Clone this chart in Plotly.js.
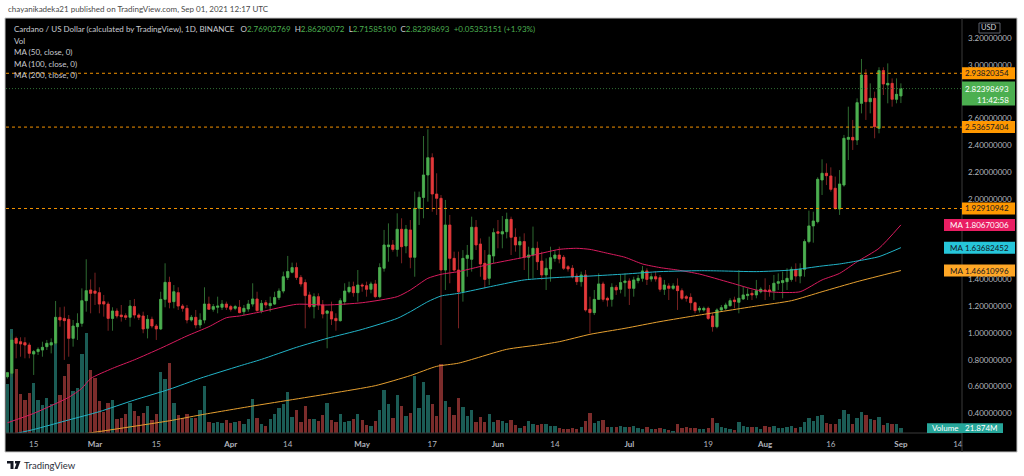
<!DOCTYPE html>
<html><head><meta charset="utf-8">
<script src="https://cdn.plot.ly/plotly-3.0.1.min.js"></script>
<style>html,body{margin:0;padding:0;background:#fff;overflow:hidden}#chart{width:1024px;height:476px}</style>
</head><body><div id="chart"></div>
<script>
// ---------------- DATA ----------------
const startDate = [2021, 1, 9]; // first daily candle: 2021-02-09
const openP = [0.674,0.699,0.960,0.935,0.928,0.910,0.843,0.861,0.873,0.898,
 0.910,0.923,1.117,1.109,1.102,0.960,1.047,1.072,1.241,1.321,
 1.313,1.301,1.234,1.216,1.109,1.164,1.134,1.129,1.117,1.197,
 1.134,1.127,1.035,1.102,1.052,1.030,1.251,1.378,1.234,1.301,
 1.201,1.184,1.097,1.117,1.060,1.097,1.216,1.177,1.192,1.192,
 1.216,1.197,1.184,1.192,1.159,1.179,1.216,1.254,1.167,1.226,
 1.204,1.216,1.264,1.313,1.415,1.453,1.488,1.415,1.376,1.284,
 1.197,1.271,1.209,1.147,1.159,1.109,1.092,1.234,1.308,1.346,
 1.301,1.358,1.353,1.326,1.366,1.271,1.483,1.644,1.657,1.624,
 1.774,1.649,1.769,1.565,1.930,2.012,2.179,2.308,2.037,2.005,
 1.470,1.806,1.557,1.470,1.308,1.557,1.550,1.789,1.664,1.520,
 1.408,1.575,1.756,1.739,1.756,1.848,1.714,1.657,1.682,1.565,
 1.582,1.632,1.537,1.433,1.478,1.557,1.582,1.565,1.495,1.483,
 1.425,1.383,1.433,1.177,1.152,1.251,1.366,1.259,1.251,1.341,
 1.326,1.376,1.388,1.333,1.391,1.408,1.463,1.403,1.420,1.413,
 1.326,1.351,1.333,1.351,1.316,1.271,1.266,1.226,1.172,1.172,
 1.184,1.127,1.047,1.172,1.184,1.204,1.246,1.229,1.254,1.279,
 1.296,1.284,1.308,1.321,1.321,1.313,1.371,1.376,1.383,1.400,
 1.475,1.425,1.475,1.682,1.799,1.831,2.142,2.192,2.172,2.080,
 1.925,2.104,2.445,2.460,2.440,2.714,2.925,2.726,2.751,2.527,
 2.958,2.851,2.863,2.744,2.76902769];
const highP = [0.71,0.998,0.973,0.968,0.968,0.928,0.873,0.893,0.935,0.948,
 0.960,1.239,1.192,1.197,1.134,1.097,1.147,1.333,1.550,1.400,
 1.450,1.341,1.284,1.234,1.192,1.184,1.209,1.147,1.246,1.254,
 1.147,1.159,1.134,1.122,1.067,1.308,1.520,1.420,1.358,1.341,
 1.216,1.209,1.134,1.172,1.147,1.341,1.271,1.216,1.271,1.246,
 1.234,1.21,1.21,1.246,1.209,1.246,1.371,1.308,1.246,1.246,
 1.271,1.308,1.333,1.458,1.575,1.525,1.525,1.433,1.400,1.308,
 1.296,1.296,1.246,1.172,1.234,1.147,1.259,1.371,1.383,1.383,
 1.470,1.371,1.383,1.383,1.396,1.520,1.769,1.818,1.694,1.893,
 1.856,1.806,1.843,2.055,2.055,2.470,2.520,2.341,2.192,2.030,
 1.993,1.881,1.607,1.607,1.619,1.657,1.868,1.843,1.706,1.619,
 1.719,1.781,1.843,1.873,1.898,1.868,1.781,1.719,1.744,1.644,
 1.794,1.682,1.607,1.557,1.644,1.619,1.644,1.582,1.507,1.507,
 1.445,1.458,1.470,1.271,1.321,1.445,1.383,1.271,1.371,1.358,
 1.433,1.445,1.408,1.420,1.433,1.500,1.483,1.445,1.458,1.433,
 1.396,1.371,1.371,1.408,1.333,1.284,1.296,1.234,1.201,1.197,
 1.197,1.147,1.184,1.209,1.226,1.259,1.271,1.470,1.351,1.333,
 1.321,1.396,1.341,1.408,1.358,1.433,1.445,1.458,1.483,1.495,
 1.520,1.520,1.699,1.913,1.905,2.162,2.296,2.266,2.236,2.167,
 2.216,2.478,2.689,2.590,2.751,3.045,2.968,2.863,2.801,2.983,
 2.983,3.012,2.900,2.900,2.86290072];
const lowP = [0.66,0.67,0.811,0.823,0.811,0.811,0.687,0.836,0.823,0.873,
 0.848,0.910,1.047,0.799,0.823,0.898,0.948,1.047,1.159,1.147,
 1.209,1.147,1.122,1.017,1.017,1.109,1.085,1.097,1.047,1.109,
 1.097,0.998,0.960,1.035,0.948,1.022,1.192,1.184,1.184,1.172,
 1.159,1.072,1.085,1.035,1.035,1.072,1.172,1.159,1.147,1.172,
 1.172,1.16,1.17,1.147,1.134,1.159,1.197,1.159,1.147,1.184,
 1.159,1.209,1.246,1.296,1.396,1.445,1.396,1.346,1.035,1.184,
 1.109,1.172,1.109,0.886,1.060,1.017,1.085,1.209,1.296,1.271,
 1.234,1.308,1.271,1.296,1.259,1.259,1.458,1.532,1.607,1.570,
 1.520,1.595,1.483,1.420,1.806,1.856,1.980,1.905,1.881,0.910,
 1.321,1.371,1.458,1.035,1.234,1.420,1.458,1.619,1.420,1.333,
 1.358,1.520,1.632,1.632,1.706,1.582,1.607,1.557,1.470,1.396,
 1.408,1.470,1.396,1.321,1.383,1.532,1.520,1.470,1.458,1.408,
 1.358,1.346,1.159,0.998,1.134,1.246,1.234,1.197,1.197,1.284,
 1.296,1.271,1.209,1.271,1.371,1.383,1.358,1.383,1.383,1.308,
 1.284,1.246,1.321,1.172,1.246,1.234,1.172,1.147,1.152,1.159,
 1.097,1.010,1.035,1.159,1.172,1.197,1.184,1.147,1.246,1.246,
 1.246,1.259,1.296,1.246,1.271,1.246,1.321,1.259,1.321,1.383,
 1.383,1.371,1.420,1.669,1.674,1.818,2.030,2.104,2.055,1.918,
 1.881,2.092,2.291,2.366,2.403,2.639,2.590,2.639,2.453,2.490,
 2.776,2.714,2.689,2.714,2.71585190];
const closeP = [0.704,0.948,0.923,0.918,0.910,0.848,0.861,0.878,0.893,0.923,
 0.928,1.117,1.097,1.092,0.960,1.052,1.072,1.241,1.316,1.296,
 1.296,1.216,1.216,1.109,1.164,1.127,1.122,1.117,1.201,1.134,
 1.117,1.030,1.102,1.052,1.030,1.251,1.378,1.229,1.308,1.201,
 1.184,1.097,1.117,1.060,1.097,1.216,1.177,1.197,1.201,1.216,
 1.192,1.177,1.197,1.152,1.184,1.216,1.254,1.167,1.221,1.209,
 1.221,1.264,1.313,1.420,1.458,1.488,1.415,1.366,1.279,1.197,
 1.271,1.209,1.142,1.164,1.104,1.092,1.241,1.313,1.341,1.301,
 1.358,1.351,1.326,1.366,1.271,1.488,1.657,1.657,1.624,1.774,
 1.644,1.774,1.565,1.930,2.012,2.179,2.308,2.037,2.005,1.470,
 1.806,1.557,1.470,1.308,1.557,1.580,1.789,1.657,1.515,1.400,
 1.582,1.749,1.744,1.756,1.848,1.714,1.657,1.682,1.565,1.582,
 1.632,1.532,1.433,1.483,1.562,1.582,1.552,1.483,1.478,1.420,
 1.383,1.433,1.172,1.152,1.251,1.366,1.251,1.246,1.341,1.321,
 1.376,1.388,1.333,1.396,1.408,1.463,1.400,1.420,1.403,1.326,
 1.358,1.333,1.351,1.316,1.259,1.259,1.226,1.167,1.184,1.184,
 1.109,1.047,1.172,1.189,1.209,1.241,1.234,1.259,1.284,1.289,
 1.284,1.316,1.326,1.313,1.308,1.371,1.383,1.391,1.408,1.475,
 1.425,1.475,1.682,1.799,1.836,2.147,2.192,2.174,2.072,1.930,
 2.112,2.453,2.460,2.440,2.719,2.925,2.726,2.751,2.540,2.958,
 2.858,2.863,2.744,2.781,2.82398693];
// volume, millions
const volumeM = [226,482,296,183,153,187,234,153,130,161,
 136,412,177,265,322,195,211,369,466,292,
 257,149,99,141,152,64,68,90,141,102,
 79,94,126,59,87,285,252,327,141,82,
 71,87,68,71,106,219,53,48,53,48,
 59,48,53,56,40,64,157,71,43,33,
 64,87,118,136,192,74,106,53,126,64,
 64,56,84,141,59,53,87,53,56,64,
 87,59,37,33,56,106,199,133,71,177,
 126,79,94,265,118,239,177,136,79,319,
 149,121,85,161,121,79,106,53,76,53,
 87,51,59,56,45,60,37,22,33,56,
 43,37,40,40,34,33,25,19,19,22,
 19,29,56,92,47,56,59,28,29,29,
 31,29,27,31,22,19,28,17,19,25,
 17,13,9,40,25,28,23,23,20,19,
 22,68,45,28,22,20,15,51,31,28,
 27,28,19,31,27,34,23,23,28,31,
 25,27,53,71,56,79,84,47,40,43,
 64,106,90,40,71,99,84,64,59,76,
 37,47,42,43,21.874];
// moving averages
const ma50Dates = ['2021-02-09','2021-02-15','2021-02-23','2021-02-26','2021-02-28','2021-03-05','2021-03-10','2021-03-16','2021-03-22','2021-03-27','2021-03-31','2021-04-03','2021-04-08','2021-04-16','2021-04-23','2021-05-01','2021-05-09','2021-05-12','2021-05-16','2021-05-19','2021-05-23','2021-05-31','2021-06-07','2021-06-15','2021-06-19','2021-06-22','2021-06-26','2021-06-30','2021-07-04','2021-07-08','2021-07-12','2021-07-17','2021-07-24','2021-07-30','2021-08-04','2021-08-09','2021-08-14','2021-08-18','2021-08-22','2021-08-27','2021-09-01'];
const ma50Vals = [0.33,0.40,0.52,0.587,0.66,0.736,0.80,0.886,0.978,1.047,1.114,1.127,1.159,1.214,1.209,1.226,1.271,1.321,1.408,1.438,1.458,1.52,1.565,1.624,1.632,1.624,1.595,1.565,1.515,1.488,1.47,1.44,1.376,1.321,1.303,1.308,1.396,1.445,1.532,1.632,1.80670306];
const ma100Dates = ['2021-02-11','2021-02-15','2021-02-23','2021-03-02','2021-03-10','2021-03-18','2021-03-25','2021-04-03','2021-04-08','2021-04-16','2021-04-23','2021-05-01','2021-05-09','2021-05-12','2021-05-16','2021-05-19','2021-05-23','2021-05-31','2021-06-07','2021-06-15','2021-06-22','2021-06-30','2021-07-08','2021-07-17','2021-07-22','2021-07-30','2021-08-07','2021-08-14','2021-08-18','2021-08-22','2021-08-27','2021-09-01'];
const ma100Vals = [0.25,0.28,0.351,0.413,0.50,0.58,0.662,0.754,0.803,0.893,0.96,1.027,1.109,1.159,1.234,1.276,1.296,1.351,1.396,1.415,1.425,1.44,1.458,1.465,1.463,1.458,1.47,1.50,1.515,1.537,1.57,1.63682452];
const ma200Dates = ['2021-02-27','2021-03-18','2021-03-25','2021-04-06','2021-04-24','2021-05-04','2021-05-12','2021-05-18','2021-05-23','2021-06-03','2021-06-10','2021-06-15','2021-06-22','2021-06-30','2021-07-08','2021-07-17','2021-07-30','2021-08-07','2021-08-14','2021-08-22','2021-09-01'];
const ma200Vals = [0.25,0.345,0.388,0.455,0.55,0.607,0.682,0.751,0.775,0.878,0.91,0.935,0.99,1.035,1.085,1.134,1.201,1.241,1.308,1.383,1.46610996];
const levels = [2.93820354, 2.53657404, 1.92910942];
const lastPrice = 2.82398693;
const countdown = '11:42:58';
// price ticks not hidden behind the right-hand labels
const priceTicks = [0.4,0.6,0.8,1.0,1.2,1.4,2.0,2.2,2.4,2.6,3.0,3.2];
const dateTickVals = ['2021-02-15','2021-03-01','2021-03-15','2021-04-01','2021-04-14','2021-05-01','2021-05-17','2021-06-01','2021-06-14','2021-07-01','2021-07-19','2021-08-01','2021-08-16','2021-09-01','2021-09-14'];
const dateTickText = ['15','Mar','15','Apr','14','May','17','Jun','14','Jul','19','Aug','16','Sep','14'];
const changeText = '+0.05353151 (+1.93%)';
const volumeLabel = '21.874M';

// ---------------- BUILD ----------------
const dates = openP.map((_, i) => new Date(Date.UTC(startDate[0], startDate[1], startDate[2] + i)).toISOString().slice(0, 10));
const up = openP.map((o, i) => closeP[i] >= o);
const bodyHigh = openP.map((o, i) => Math.max(o, closeP[i]));
const bodyLow = openP.map((o, i) => Math.min(o, closeP[i]));

const PL = 6, PR = 962, PT = 18, PB = 433;
const px = x => (x - PL) / (PR - PL);
const py = y => (PB - y) / (PB - PT);
const FONT = 'Lato, "Liberation Sans", sans-serif';
const GREEN = '#4caf50', RED = '#e5393a';

const traces = [
  { type: 'bar', x: dates, y: volumeM, yaxis: 'y', xaxis: 'x',
    marker: { color: up.map(u => u ? '#1b5c55' : '#7b2c2b'), line: { width: 0 } },
    width: 0.76 * 86400000, hoverinfo: 'skip', showlegend: false },
  { type: 'candlestick', x: dates, open: openP, high: highP, low: lowP, close: closeP, yaxis: 'y2',
    increasing: { line: { color: '#2e6a31', width: 1 }, fillcolor: '#2e6a31' },
    decreasing: { line: { color: '#782222', width: 1 }, fillcolor: '#782222' },
    whiskerwidth: 0, hoverinfo: 'skip', showlegend: false },
  { type: 'candlestick', x: dates, open: openP, high: bodyHigh, low: bodyLow, close: closeP, yaxis: 'y2',
    increasing: { line: { color: GREEN, width: 0.6 }, fillcolor: GREEN },
    decreasing: { line: { color: RED, width: 0.6 }, fillcolor: RED },
    whiskerwidth: 0, hoverinfo: 'skip', showlegend: false },
  { type: 'scatter', mode: 'lines', x: ma50Dates, y: ma50Vals, yaxis: 'y2', line: { color: '#d81b5e', width: 1, shape: 'spline', smoothing: 0.6 }, hoverinfo: 'skip', showlegend: false },
  { type: 'scatter', mode: 'lines', x: ma100Dates, y: ma100Vals, yaxis: 'y2', line: { color: '#22b4c8', width: 1, shape: 'spline', smoothing: 0.6 }, hoverinfo: 'skip', showlegend: false },
  { type: 'scatter', mode: 'lines', x: ma200Dates, y: ma200Vals, yaxis: 'y2', line: { color: '#e6a030', width: 1, shape: 'spline', smoothing: 0.6 }, hoverinfo: 'skip', showlegend: false }
];

const shapes = [];
const annotations = [];
// black frame
shapes.push({ type: 'rect', xref: 'paper', yref: 'paper', x0: px(5), x1: px(1017), y0: py(452), y1: py(18), fillcolor: '#000', line: { color: '#c4c4c4', width: 1 }, layer: 'below' });
// axis separators
shapes.push({ type: 'line', xref: 'paper', yref: 'paper', x0: 1, x1: 1, y0: py(452), y1: py(18.5), line: { color: '#3b3b3b', width: 1 } });
shapes.push({ type: 'line', xref: 'paper', yref: 'paper', x0: 0, x1: 1, y0: 0, y1: 0, line: { color: '#3b3b3b', width: 1 } });
// level lines
levels.forEach(L => shapes.push({ type: 'line', xref: 'paper', yref: 'y2', x0: 0, x1: 1, y0: L, y1: L, line: { color: '#f39200', width: 1, dash: '3px,3px' } }));
shapes.push({ type: 'line', xref: 'paper', yref: 'y2', x0: 0, x1: 1, y0: lastPrice, y1: lastPrice, line: { color: '#2f6e34', width: 1, dash: '1px,2px' } });

function label(value, text, color, txtColor, left, opts) {
  opts = opts || {};
  shapes.push({ type: 'rect', xref: 'paper', yref: 'y2', ysizemode: 'pixel', yanchor: value, x0: px(left), x1: px(1015), y0: opts.y0 || -6, y1: opts.y1 || 6, fillcolor: color, line: { width: 0 } });
  annotations.push({ xref: 'paper', yref: 'y2', x: px(1011), y: value, xanchor: 'right', yanchor: 'middle', text: text, showarrow: false, font: { family: FONT, size: 8, color: txtColor } });
}
levels.forEach(L => label(L, L.toFixed(8), '#ff9800', '#131722', 962));
label(lastPrice, lastPrice.toFixed(8), '#4caf50', '#ffffff', 962, { y0: -17, y1: 7 });
annotations.push({ xref: 'paper', yref: 'y2', x: px(1011), y: lastPrice, yshift: -11, xanchor: 'right', yanchor: 'middle', text: countdown, showarrow: false, font: { family: FONT, size: 8, color: '#ffffff' } });
const maLabels = [[ma50Vals[ma50Vals.length - 1], '#e91e63', '#ffffff'], [ma100Vals[ma100Vals.length - 1], '#26c6da', '#131722'], [ma200Vals[ma200Vals.length - 1], '#ffa726', '#131722']];
maLabels.forEach(m => {
  label(m[0], m[0].toFixed(8), m[1], m[2], 944);
  annotations.push({ xref: 'paper', yref: 'y2', x: px(948), y: m[0], xanchor: 'left', yanchor: 'middle', text: 'MA', showarrow: false, font: { family: FONT, size: 8, color: m[2] } });
});
// volume label
const lastVol = volumeM[volumeM.length - 1];
shapes.push({ type: 'rect', xref: 'paper', yref: 'y', ysizemode: 'pixel', yanchor: lastVol, x0: px(927), x1: px(1003), y0: -5, y1: 5, fillcolor: '#26a69a', line: { width: 0 } });
annotations.push({ xref: 'paper', yref: 'y', x: px(930), y: lastVol, xanchor: 'left', yanchor: 'middle', text: 'Volume', showarrow: false, font: { family: FONT, size: 8, color: '#ffffff' } });
annotations.push({ xref: 'paper', yref: 'y', x: px(1000), y: lastVol, xanchor: 'right', yanchor: 'middle', text: volumeLabel, showarrow: false, font: { family: FONT, size: 8, color: '#ffffff' } });
// USD box
shapes.push({ type: 'rect', xref: 'paper', yref: 'paper', x0: px(979), x1: px(1000), y0: py(33), y1: py(23), fillcolor: '#000', line: { color: '#5d606b', width: 1 } });
annotations.push({ xref: 'paper', yref: 'paper', x: px(989.5), y: py(28), xanchor: 'center', yanchor: 'middle', text: 'USD', showarrow: false, font: { family: FONT, size: 7.5, color: '#d1d4dc' } });

// header
const G = s => '<span style="color:#4caf50">' + s + '</span>';
const W = s => '<span style="color:#c9cbd1">' + s + '</span>';
const n = openP.length - 1;
const head1 = W('Cardano / US Dollar (calculated by TradingView), 1D, BINANCE') + '&nbsp;&nbsp;&nbsp;' +
  W('O') + G(openP[n].toFixed(8)) + '&nbsp;&nbsp;' + W('H') + G(highP[n].toFixed(8)) + '&nbsp;&nbsp;' +
  W('L') + G(lowP[n].toFixed(8)) + '&nbsp;&nbsp;' + W('C') + G(closeP[n].toFixed(8)) + '&nbsp;&nbsp;' + G(changeText);
const headLines = [[head1, 29], [W('Vol'), 40.5], [W('MA (50, close, 0)'), 52], [W('MA (100, close, 0)'), 63.5], [W('MA (200, close, 0)'), 75]];
headLines.forEach(h => annotations.push({ xref: 'paper', yref: 'paper', x: px(12), y: py(h[1]), xanchor: 'left', yanchor: 'middle', text: h[0], showarrow: false, font: { family: FONT, size: 8, color: '#c9cbd1' } }));
annotations.push({ xref: 'paper', yref: 'paper', x: px(6), y: py(8.5), xanchor: 'left', yanchor: 'middle', text: 'chayanikadeka21 published on TradingView.com, Sep 01, 2021 12:17 UTC', showarrow: false, font: { family: FONT, size: 8, color: '#4a4a4a' } });
annotations.push({ xref: 'paper', yref: 'paper', x: px(22), y: py(465), xanchor: 'left', yanchor: 'middle', text: 'TradingView', showarrow: false, font: { family: FONT, size: 9.5, color: '#2a2e39' } });
// logo
shapes.push({ type: 'path', xref: 'paper', yref: 'paper', path: 'M' + px(7) + ',' + py(461) + ' L' + px(13.5) + ',' + py(461) + ' L' + px(13.5) + ',' + py(469) + ' L' + px(10.5) + ',' + py(469) + ' L' + px(10.5) + ',' + py(463.5) + ' L' + px(7) + ',' + py(463.5) + ' Z', fillcolor: '#131722', line: { width: 0 } });
shapes.push({ type: 'path', xref: 'paper', yref: 'paper', path: 'M' + px(15) + ',' + py(461) + ' L' + px(20.5) + ',' + py(461) + ' L' + px(17.5) + ',' + py(469) + ' L' + px(14.5) + ',' + py(469) + ' L' + px(16.5) + ',' + py(463.5) + ' L' + px(15) + ',' + py(463.5) + ' Z', fillcolor: '#131722', line: { width: 0 } });

const layout = {
  width: 1024, height: 476,
  margin: { l: PL, r: 1024 - PR, t: PT, b: 476 - PB, pad: 0 },
  paper_bgcolor: '#ffffff', plot_bgcolor: '#000000',
  showlegend: false, hovermode: false, dragmode: false,
  bargap: 0,
  xaxis: { type: 'date', range: ['2021-02-08 16:18', '2021-09-14 22:48'], rangeslider: { visible: false },
    tickvals: dateTickVals, ticktext: dateTickText.map(t => /[A-Za-z]/.test(t) ? '<b>' + t + '</b>' : t),
    ticks: '', showgrid: false, zeroline: false, showline: false, ticklabelstandoff: 5,
    tickfont: { family: FONT, size: 8, color: '#b2b5be' } },
  yaxis: { range: [0, 1930], visible: false, fixedrange: true },
  yaxis2: { overlaying: 'y', side: 'right', range: [0.2537, 3.3507], tickvals: priceTicks, tickformat: '.8f',
    ticks: '', showgrid: false, zeroline: false, showline: false, ticklabelstandoff: 5,
    tickfont: { family: FONT, size: 8, color: '#b2b5be' } },
  shapes: shapes, annotations: annotations
};
Plotly.newPlot('chart', traces, layout, { staticPlot: true, displayModeBar: false });
</script></body></html>
